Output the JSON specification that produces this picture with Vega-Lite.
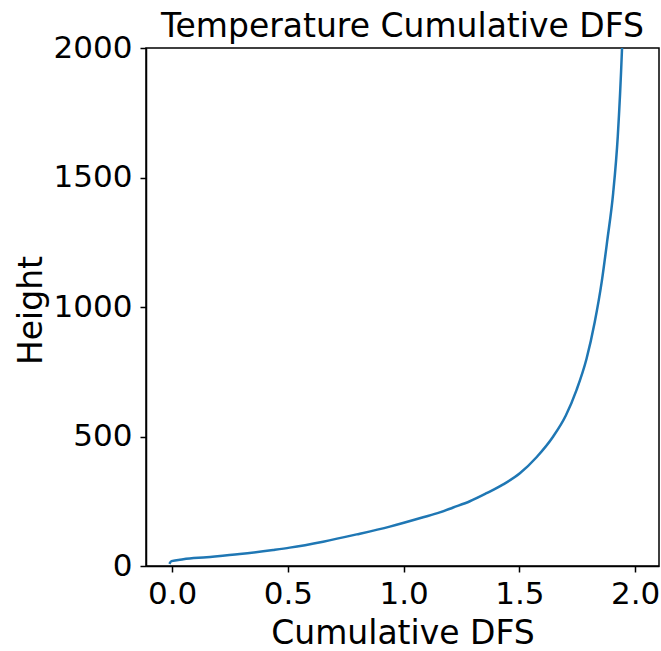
{
  "$schema": "https://vega.github.io/schema/vega-lite/v6.json",
  "width": 513,
  "height": 518,
  "autosize": "none",
  "padding": {"left": 146, "top": 48, "right": 2, "bottom": 85},
  "background": "white",
  "config": {
    "font": "DejaVu Sans",
    "view": {"stroke": "black", "strokeWidth": 1.5},
    "axis": {
      "grid": false,
      "domainColor": "black",
      "domainWidth": 1.5,
      "tickColor": "black",
      "tickWidth": 1.5,
      "tickSize": 6,
      "labelColor": "black",
      "titleColor": "black",
      "labelFontSize": 31,
      "titleFontSize": 33,
      "titleFontWeight": "normal",
      "labelPadding": 8
    },
    "title": {"fontSize": 33, "fontWeight": "normal", "color": "black"}
  },
  "title": {"text": "Temperature Cumulative DFS", "anchor": "middle", "baseline": "alphabetic", "offset": -4, "dy": 34},
  "data": {
    "values": [
      {"dfs": -0.012, "height": 8},
      {"dfs": -0.003, "height": 19},
      {"dfs": 0.048, "height": 26},
      {"dfs": 0.149, "height": 34},
      {"dfs": 0.292, "height": 46},
      {"dfs": 0.436, "height": 62},
      {"dfs": 0.508, "height": 71},
      {"dfs": 0.652, "height": 94},
      {"dfs": 0.797, "height": 122},
      {"dfs": 0.94, "height": 152},
      {"dfs": 1.084, "height": 188},
      {"dfs": 1.156, "height": 207},
      {"dfs": 1.214, "height": 226},
      {"dfs": 1.286, "height": 250},
      {"dfs": 1.358, "height": 281},
      {"dfs": 1.43, "height": 315},
      {"dfs": 1.502, "height": 358},
      {"dfs": 1.574, "height": 420},
      {"dfs": 1.646, "height": 500},
      {"dfs": 1.7, "height": 580},
      {"dfs": 1.747, "height": 680},
      {"dfs": 1.79, "height": 800},
      {"dfs": 1.825, "height": 940},
      {"dfs": 1.856, "height": 1100},
      {"dfs": 1.88, "height": 1260},
      {"dfs": 1.905, "height": 1440},
      {"dfs": 1.925, "height": 1660},
      {"dfs": 1.943, "height": 1992},
      {"dfs": 1.945, "height": 2040}
    ]
  },
  "mark": {"type": "line", "color": "#1f77b4", "strokeWidth": 2.5, "clip": true, "interpolate": "monotone"},
  "encoding": {
    "x": {
      "field": "dfs",
      "type": "quantitative",
      "title": "Cumulative DFS",
      "scale": {"domain": [-0.113, 2.103], "nice": false, "zero": false},
      "axis": {"values": [0, 0.5, 1, 1.5, 2], "format": ".1f", "labelPadding": 7, "titleBaseline": "alphabetic", "titleY": 77}
    },
    "y": {
      "field": "height",
      "type": "quantitative",
      "title": "Height",
      "sort": null,
      "scale": {"domain": [0, 2000], "nice": false},
      "axis": {"values": [0, 500, 1000, 1500, 2000], "format": "d", "titleBaseline": "alphabetic", "titleAngle": -90, "titleAlign": "center", "titleX": -105, "titleY": 262}
    },
    "order": {"field": "height", "type": "quantitative"}
  }
}
